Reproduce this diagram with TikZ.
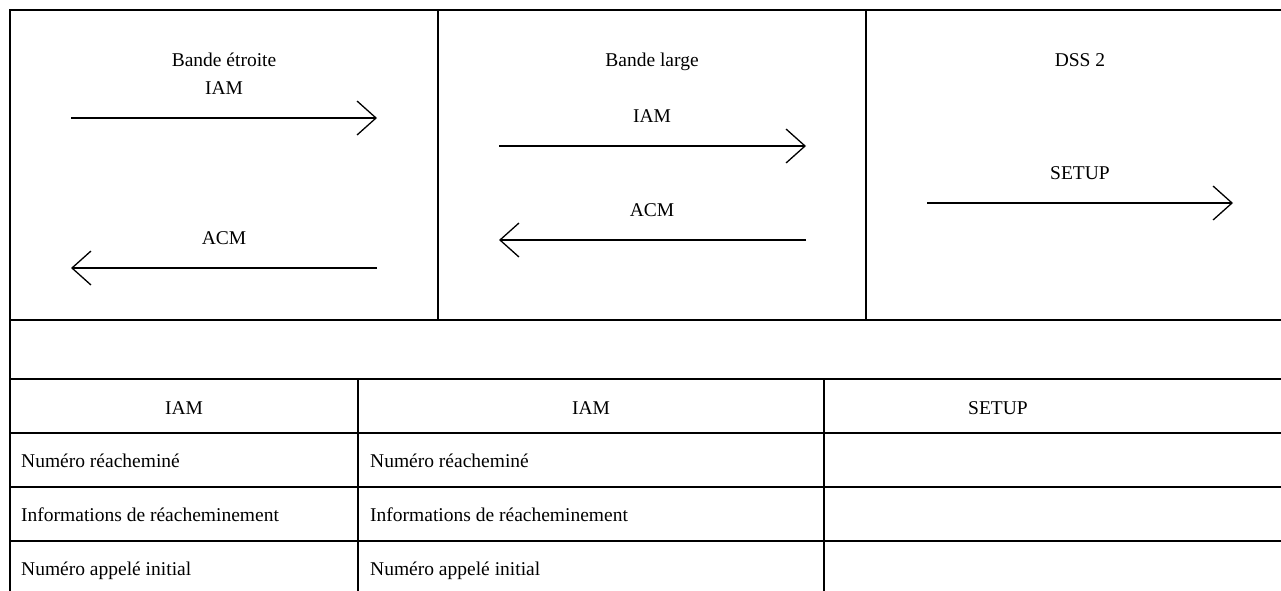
\documentclass[tikz,border=0pt]{standalone}
\usepackage{fontspec}
\setmainfont{Liberation Serif}
\usetikzlibrary{arrows.meta}
\begin{document}
\begin{tikzpicture}[x=1pt,y=-1pt,
  grid/.style={line width=2pt},
  msg/.style={line width=1.3pt,-{Straight Barb[length=19pt,width=34pt,line width=1.3pt]}},
  lbl/.style={inner sep=0pt,anchor=base,font=\fontsize{19.5}{23}\selectfont},
  cell/.style={lbl,anchor=base west}]
\useasboundingbox (0,0) rectangle (1281,590);
% frame and grid
\draw[grid] (10,600) -- (10,10) -- (1295,10);
\draw[grid] (438,10) -- (438,320);
\draw[grid] (866,10) -- (866,320);
\foreach \yy in {320,379,433,487,541} \draw[grid] (10,\yy) -- (1295,\yy);
\draw[grid] (358,379) -- (358,600);
\draw[grid] (824,379) -- (824,600);
% column 1: narrowband
\node[lbl] (nbt) at (224,66) {Bande étroite};
\node[lbl] (nbiam) at (224,94) {IAM};
\coordinate (nbiamA) at (71,118); \coordinate (nbiamB) at (377,118);
\draw[msg] (nbiamA) -- (nbiamB);
\node[lbl] (nbacm) at (224,244) {ACM};
\coordinate (nbacmA) at (377,268); \coordinate (nbacmB) at (71,268);
\draw[msg] (nbacmA) -- (nbacmB);
% column 2: broadband
\node[lbl] (bbt) at (652,66) {Bande large};
\node[lbl] (bbiam) at (652,122) {IAM};
\coordinate (bbiamA) at (499,146); \coordinate (bbiamB) at (806,146);
\draw[msg] (bbiamA) -- (bbiamB);
\node[lbl] (bbacm) at (652,216) {ACM};
\coordinate (bbacmA) at (806,240); \coordinate (bbacmB) at (499,240);
\draw[msg] (bbacmA) -- (bbacmB);
% column 3: DSS 2
\node[lbl] (dsst) at (1080,66) {DSS 2};
\node[lbl] (setup) at (1080,179) {SETUP};
\coordinate (setupA) at (927,203); \coordinate (setupB) at (1233,203);
\draw[msg] (setupA) -- (setupB);
% table
\node[lbl] (h1) at (184,414) {IAM};
\node[lbl] (h2) at (591,414) {IAM};
\node[lbl] (h3) at (998,414) {SETUP};
\node[cell] (a1) at (21,467) {Numéro réacheminé};
\node[cell] (a2) at (370,467) {Numéro réacheminé};
\node[cell] (b1) at (21,521) {Informations de réacheminement};
\node[cell] (b2) at (370,521) {Informations de réacheminement};
\node[cell] (c1) at (21,575) {Numéro appelé initial};
\node[cell] (c2) at (370,575) {Numéro appelé initial};
\end{tikzpicture}
\end{document}
